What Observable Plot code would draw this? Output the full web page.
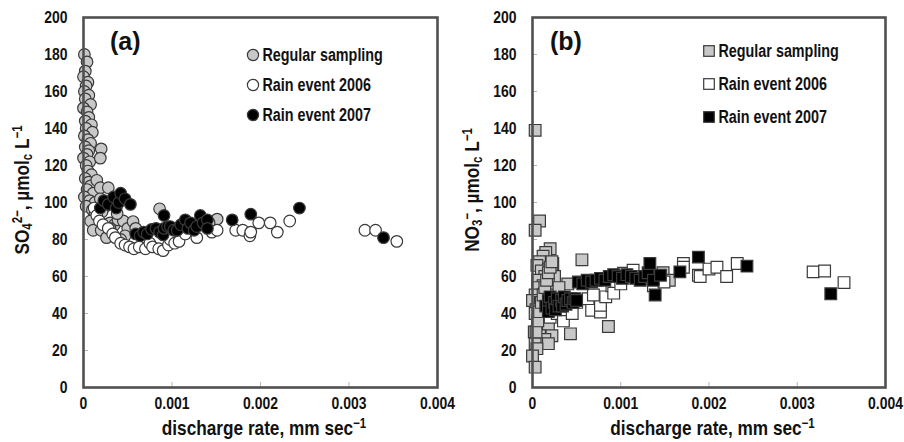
<!DOCTYPE html>
<html><head><meta charset="utf-8">
<script src="https://cdn.jsdelivr.net/npm/d3@7"></script>
<script src="https://cdn.jsdelivr.net/npm/@observablehq/plot@0.6"></script>
<style>
body{margin:0;background:#fff;}
#wrap{display:flex;width:904px;height:442px;overflow:hidden;}
svg{display:block;}
</style></head><body><div id="wrap"></div>
<script>
// ---- data (discharge rate in mm/sec, concentration in µmolc/L) ----
const seriesNames = ["Regular sampling", "Rain event 2006", "Rain event 2007"];
const xTicks = [0, 0.001, 0.002, 0.003, 0.004];
const xTickLabels = ["0", "0.001", "0.002", "0.003", "0.004"];
const yTicks = [0, 20, 40, 60, 80, 100, 120, 140, 160, 180, 200];

const so4Regular = [[0.00001,180],[0.00004,176],[0.00002,171],[0.00000,168],[0.00005,165],[0.00003,163],[0.00001,160],[0.00006,158],[0.00002,156],[0.00008,153],[0.00000,151],[0.00004,149],[0.00006,146],[0.00002,144],[0.00009,142],[0.00003,140],[0.00010,138],[0.00001,136],[0.00005,134],[0.00008,132],[0.00002,130],[0.00006,128],[0.00004,126],[0.00000,124],[0.00007,122],[0.00003,120],[0.00005,117],[0.00009,115],[0.00002,113],[0.00006,111],[0.00008,109],[0.00004,107],[0.00011,105],[0.00001,103],[0.00007,101],[0.00013,100],[0.00003,98],[0.00010,96],[0.00020,129],[0.00019,124],[0.00015,112],[0.00019,108],[0.00028,108],[0.00019,102],[0.00025,98],[0.00016,92],[0.00013,94],[0.00008,90],[0.00011,85],[0.00020,85],[0.00026,81],[0.00030,89],[0.00035,88],[0.00039,90.6],[0.00045,90],[0.00050,86],[0.00056,89.7],[0.00059,86],[0.00038,94],[0.00021,95],[0.00030,86],[0.00047,82],[0.00042,80],[0.00086,96.6],[0.00151,91],[0.00142,89],[0.00125,88]];
const so4Rain2006 = [[0.00012,97],[0.00015,93],[0.00018,90],[0.00022,88],[0.00028,86],[0.00033,83],[0.00036,81],[0.00042,78],[0.00047,77],[0.00052,76],[0.00057,75],[0.00063,76],[0.00070,75],[0.00075,78],[0.00078,76],[0.00085,75],[0.00090,74],[0.00096,77],[0.00098,80],[0.00103,78],[0.00108,79],[0.00115,83],[0.00128,81],[0.00138,87],[0.00145,84],[0.00151,85],[0.00172,85],[0.00180,85],[0.00188,82],[0.00189,84],[0.00198,89],[0.00211,89],[0.00219,84],[0.00233,90],[0.00318,85],[0.00330,85],[0.00354,79]];
const so4Rain2007 = [[0.00019,97],[0.00023,101],[0.00028,99],[0.00034,103],[0.00037,97],[0.00040,100],[0.00042,105],[0.00047,102],[0.00053,99],[0.00059,83],[0.00064,82],[0.00068,84],[0.00072,83],[0.00077,85.5],[0.00082,86],[0.00086,84],[0.00090,82.5],[0.00091,86],[0.00091,93],[0.00095,87],[0.00098,87],[0.00102,85],[0.00106,85],[0.00110,88],[0.00115,90.6],[0.00118,86],[0.00121,89],[0.00125,85],[0.00128,87],[0.00132,93],[0.00135,89],[0.00140,90.6],[0.00140,86],[0.00168,90.6],[0.00189,93.7],[0.00244,97],[0.00339,81]];

const no3Regular = [[0.00003,139],[0.00008,90],[0.00003,85],[0.00020,75],[0.00015,73],[0.00012,71],[0.00008,68],[0.00005,66],[0.00023,67],[0.00018,64],[0.00010,63],[0.00022,62],[0.00014,60],[0.00025,60],[0.00006,58],[0.00018,56],[0.00040,56],[0.00012,55],[0.00006,54],[0.00014,51],[0.00020,52],[0.00003,50],[0.00000,47],[0.00009,46],[0.00010,43.5],[0.00004,42],[0.00015,44],[0.00003,40],[0.00012,39],[0.00018,37],[0.00006,35],[0.00010,33],[0.00018,32.6],[0.00002,30],[0.00008,28],[0.00022,28],[0.00014,26],[0.00003,23.7],[0.00018,23.7],[0.00005,21],[0.00000,17],[0.00003,11],[0.00043,29],[0.00086,33],[0.00056,69],[0.00148,62],[0.00155,58],[0.00025,50],[0.00030,54],[0.00028,47],[0.00004,30],[0.00006,36],[0.00008,41],[0.00010,46],[0.00012,50],[0.00014,54],[0.00016,58],[0.00018,62],[0.00020,65],[0.00022,68]];
const no3Rain2006 = [[0.00020,38],[0.00028,40],[0.00035,36],[0.00035,42],[0.00042,44],[0.00045,40],[0.00050,46],[0.00063,48],[0.00067,41.7],[0.00077,40.8],[0.00077,44.4],[0.00069,50],[0.00083,49],[0.00090,55],[0.00092,51],[0.00100,56],[0.00103,61.8],[0.00114,63.4],[0.00125,59],[0.00137,55],[0.00149,57],[0.00171,67],[0.00171,65],[0.00188,60.7],[0.00190,60],[0.00200,64],[0.00209,65],[0.00220,60],[0.00232,67],[0.00318,62.5],[0.00331,63],[0.00353,56.7]];
const no3Rain2007 = [[0.00015,44],[0.00018,47],[0.00018,41],[0.00020,49],[0.00022,43],[0.00025,46],[0.00026,42],[0.00028,48],[0.00030,44],[0.00033,47],[0.00034,44],[0.00036,49],[0.00038,45],[0.00040,47],[0.00043,48],[0.00046,46],[0.00048,48],[0.00050,47],[0.00052,57],[0.00057,56],[0.00062,58],[0.00067,57],[0.00072,58],[0.00077,59],[0.00082,58],[0.00087,60],[0.00092,61],[0.00097,60],[0.00102,59],[0.00107,61],[0.00112,60],[0.00117,59],[0.00122,58],[0.00127,60],[0.00131,62],[0.00133,67],[0.00137,58],[0.00139,50],[0.00145,60.7],[0.00167,62.5],[0.00188,70.5],[0.00243,65.6],[0.00338,50.7]];

const FONT = "'Liberation Sans', Arial, sans-serif";
const SQ = 0.82; // horizontal condensing to mimic a narrow bold face
const fills = ["#c8c8c8", "#ffffff", "#000000"];

function panel(opts) {
  const {width, marginLeft, marginRight, groups, symbol, r, letter, letterX, legendX, legendYs, yLabelParts, yLabelX, bg} = opts;
  const dotMarks = groups.map((g, i) => Plot.dot(g.map(([x, y]) => ({x, y})), {
    x: "x", y: "y", r, symbol, fill: fills[i], stroke: "#3a3a3a", strokeWidth: 1.2
  }));
  const svg = Plot.plot({
    width, height: 442,
    marginLeft, marginRight, marginTop: 17, marginBottom: 55,
    x: {domain: [0, 0.004]},
    y: {domain: [0, 200]},
    style: {fontFamily: FONT, fontWeight: "bold", fontSize: "17px", color: "#111", background: bg, overflow: "visible"},
    marks: [
      Plot.axisX(xTicks, {tickSize: -5, stroke: "#b5b5b5", tickFormat: () => "", label: null}),
      Plot.axisY(yTicks, {tickSize: -5, stroke: "#b5b5b5", tickFormat: () => "", label: null}),
      Plot.axisX(xTicks, {tickSize: 0, tickPadding: 9, tickFormat: d => xTickLabels[xTicks.indexOf(d)], label: null, fontSize: 17}),
      Plot.axisY(yTicks, {tickSize: 0, tickPadding: 16, label: null, fontSize: 17}),
      ...dotMarks,
      Plot.frame({stroke: "#505050", strokeWidth: 2.6})
    ]
  });
  const s = d3.select(svg);
  // panel letter
  s.append("text").attr("x", letterX).attr("y", 50).attr("text-anchor", "start")
    .style("font", `bold 25px ${FONT}`).attr("fill", "#111").text(letter);
  // legend
  const lg = s.append("g");
  seriesNames.forEach((name, i) => {
    const cy = legendYs[i];
    if (symbol === "circle") {
      lg.append("circle").attr("cx", legendX).attr("cy", cy).attr("r", 5.6)
        .attr("fill", fills[i]).attr("stroke", "#3a3a3a").attr("stroke-width", 1.2);
    } else {
      lg.append("rect").attr("x", legendX - 5.3).attr("y", cy - 5.3).attr("width", 10.6).attr("height", 10.6)
        .attr("fill", fills[i]).attr("stroke", "#3a3a3a").attr("stroke-width", 1.2);
    }
    lg.append("text").attr("transform", `translate(${legendX + 9.5},${cy}) scale(${SQ},1)`).attr("dy", "0.36em").attr("text-anchor", "start")
      .style("font", `bold 17.5px ${FONT}`).attr("fill", "#111").text(name);
  });
  // y label with sub/superscripts
  const yl = s.append("text").attr("transform", `translate(${yLabelX},190) rotate(-90) scale(${SQ},1)`)
    .attr("text-anchor", "middle").style("font", `bold 21px ${FONT}`).attr("fill", "#111");
  yLabelParts.forEach(([t, kind]) => {
    const ts = yl.append("tspan").text(t);
    if (kind === "sub") ts.attr("baseline-shift", "-25%").attr("font-size", "14px");
    if (kind === "sup") ts.attr("baseline-shift", "45%").attr("font-size", "14px");
  });
  // x label
  const xl = s.append("text")
    .attr("transform", `translate(${marginLeft + (width - marginLeft - marginRight) / 2 + 4},435) scale(${SQ},1)`)
    .attr("text-anchor", "middle").style("font", `bold 21px ${FONT}`).attr("fill", "#111");
  xl.append("tspan").text("discharge rate, mm sec");
  xl.append("tspan").attr("baseline-shift", "45%").attr("font-size", "14px").text("\u22121");
  return svg;
}

const wrap = document.getElementById("wrap");
const svgs = [
  panel({
    width: 450, marginLeft: 83, marginRight: 13, bg: "#fff",
    groups: [so4Regular, so4Rain2006, so4Rain2007], symbol: "circle", r: 5.8,
    letter: "(a)", letterX: 110, legendX: 253, legendYs: [55, 85, 115],
    yLabelX: 29,
    yLabelParts: [["SO"], ["4", "sub"], ["2\u2212", "sup"], [", \u00b5mol"], ["c", "sub"], [" L"], ["\u22121", "sup"]]
  }),
  panel({
    width: 454, marginLeft: 82, marginRight: 19, bg: "transparent",
    groups: [no3Regular, no3Rain2006, no3Rain2007], symbol: "square", r: 6.6,
    letter: "(b)", letterX: 100, legendX: 259, legendYs: [51, 84, 117],
    yLabelX: 29,
    yLabelParts: [["NO"], ["3", "sub"], ["\u2212", "sup"], [", \u00b5mol"], ["c", "sub"], [" L"], ["\u22121", "sup"]]
  })
];
svgs.forEach(svg => {
  wrap.append(svg);
  // condense the axis tick labels horizontally (narrow bold look)
  d3.select(svg).selectAll('g[aria-label="x-axis tick label"] text, g[aria-label="y-axis tick label"] text').each(function() {
    const len = this.getComputedTextLength();
    if (len > 0) {
      this.setAttribute("textLength", (len * SQ).toFixed(2));
      this.setAttribute("lengthAdjust", "spacingAndGlyphs");
    }
  });
});
</script>
</body></html>
